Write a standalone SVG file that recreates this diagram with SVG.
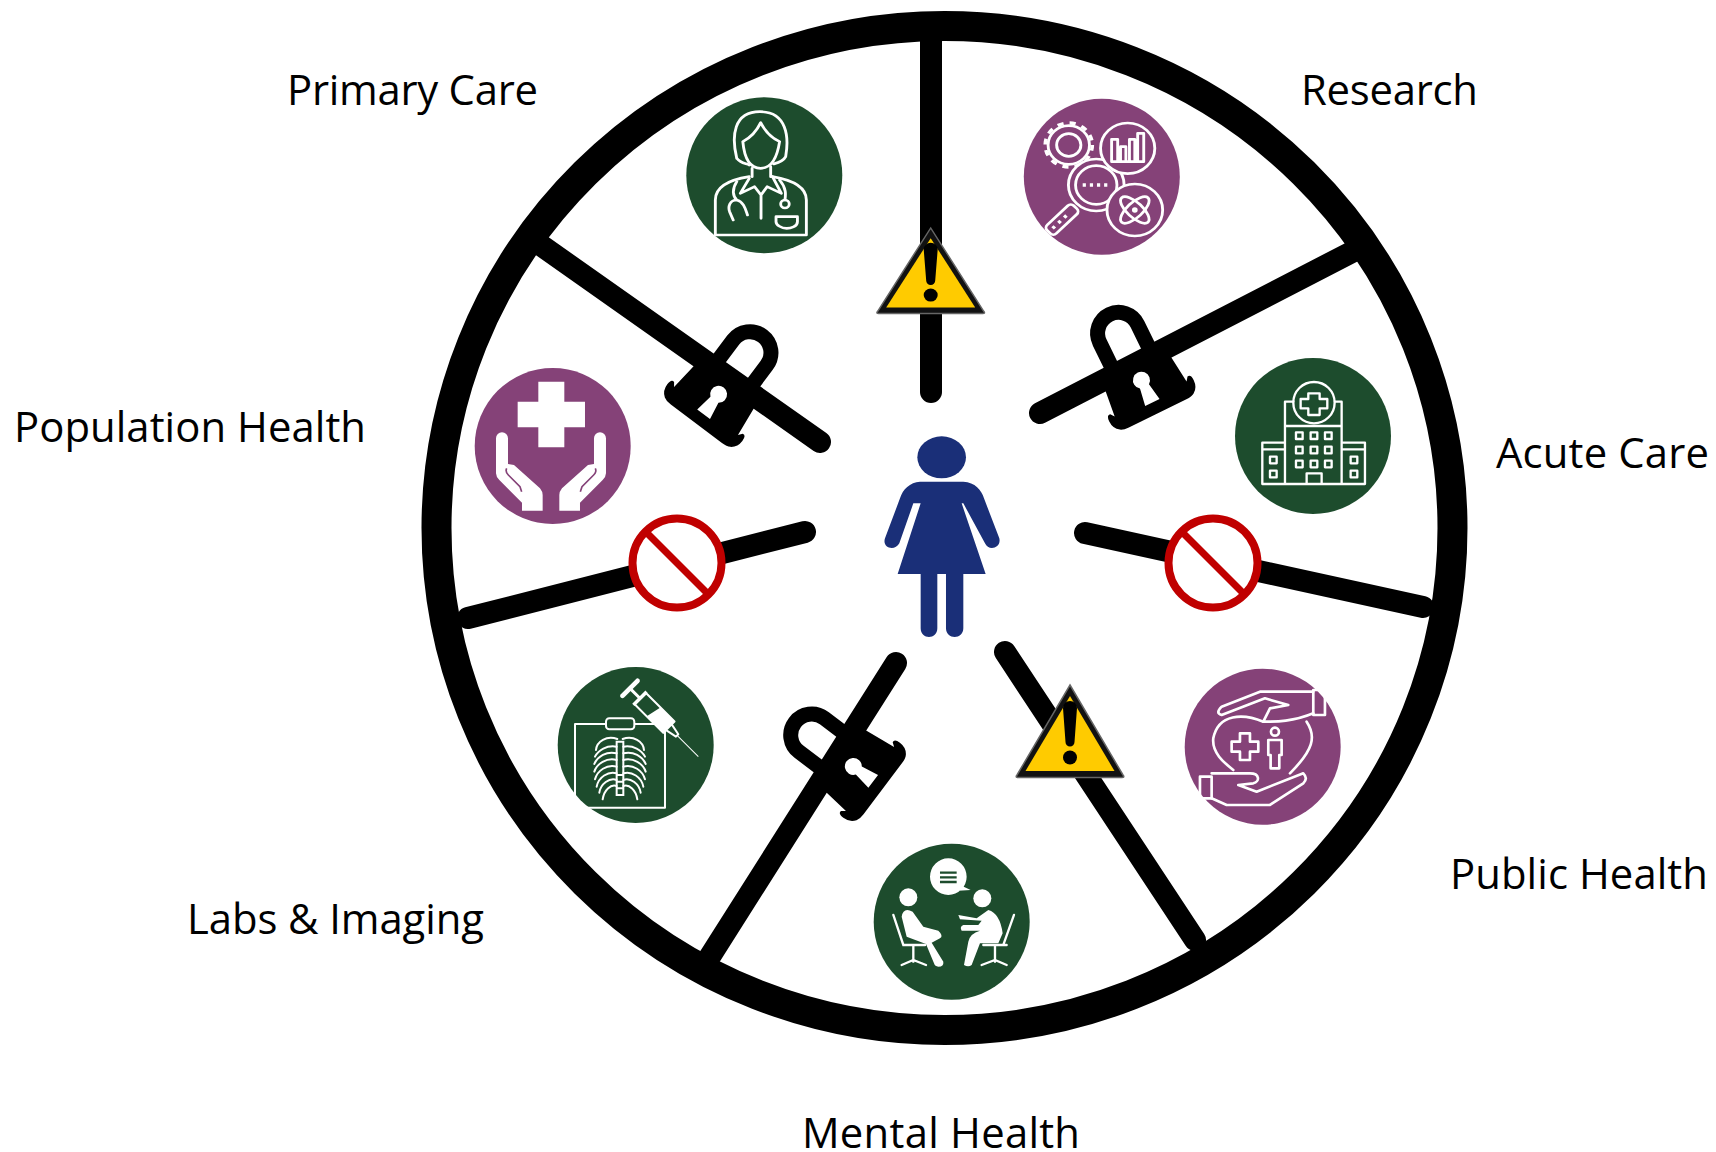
<svg xmlns="http://www.w3.org/2000/svg" xmlns:xlink="http://www.w3.org/1999/xlink" width="1716" height="1152" viewBox="0 0 1716 1152">
<style>
.lbl{font-family:"Open Sans","Noto Sans",sans-serif;font-size:41.800px;fill:#000}
.spoke{stroke:#000;stroke-width:22;stroke-linecap:round;fill:none}
.green{fill:#1d4c2d}
.purple{fill:#854278}
.ic{fill:none;stroke:#fff;stroke-width:8;stroke-linejoin:round;stroke-linecap:round}
.icg{fill:#1d4c2d;stroke:#fff;stroke-width:6;stroke-linejoin:round}
.icp{fill:#854278;stroke:#fff;stroke-width:8;stroke-linejoin:round}
.w{fill:#fff}
</style>
<defs>
<g id="lock">
<path d="M-21,-50V-83A21,21 0 0 1 21,-83V-50" fill="none" stroke="#000" stroke-width="15"/>
<path d="M-35,-55H35L40,-10L43,-14Q47,-15 47,-8Q47,0 41,4Q38,6 32,6H-32Q-38,6 -41,4Q-47,0 -47,-8Q-47,-15 -43,-14L-40,-10Z" fill="#000"/>
<path d="M-5,-24A8.500,8.500 0 1 1 5,-24L8,-6H-8Z" fill="#fff"/>
</g>
<g id="warn">
<path d="M0,0L53,90Q55,92.500 52,92.500H-52Q-55,92.500 -53,90Z" fill="#111" stroke="#666" stroke-width="1.500"/>
<path d="M0,11L44.500,86H-44.500Z" fill="#ffcb00"/>
<path d="M-7,23A7,7 0 0 1 7,23L4.500,57A4.500,4.500 0 0 1 -4.500,57Z" fill="#000"/>
<circle cx="0" cy="72.500" r="7" fill="#000"/>
</g>
<g id="noentry">
<circle r="44.500" fill="#fff" stroke="#c00000" stroke-width="8"/>
<path d="M-30,-30L30,30" stroke="#c00000" stroke-width="7"/>
</g>
<g id="ribs" fill="none" stroke="#fff" stroke-width="6" stroke-linecap="round">
<path d="M232,297C200,285 170,305 168,330"/>
<path d="M230,320C200,315 175,330 165,350"/>
<path d="M230,340C200,332 172,350 163,372"/>
<path d="M230,360C200,352 170,372 163,395"/>
<path d="M230,380C200,372 172,392 165,418"/>
<path d="M230,400C205,392 175,412 170,440"/>
<path d="M230,420C208,412 182,432 178,458"/>
<path d="M230,438C212,432 192,450 188,478"/>
</g>
<g id="careHand">
<path d="M108,385A18,18 0 0 1 144,385V462L162,465L240,535Q248,545 248,555V602H186V578L118,510Q108,500 108,490Z" fill="#fff"/>
<path d="M140,475Q135,485 145,495L180,530L185,545" fill="none" stroke="#854278" stroke-width="5"/>
</g>
</defs>
<rect width="1716" height="1152" fill="#fff"/>
<g id="connectors">
<path class="spoke" d="M931,35V392"/>
<path class="spoke" d="M1352,252L1040,413"/>
<path class="spoke" d="M1423,607L1085,533"/>
<path class="spoke" d="M1195,940L1005,652"/>
<path class="spoke" d="M709,958L896,663"/>
<path class="spoke" d="M468,618L805,532"/>
<path class="spoke" d="M542,246L820,442"/>
</g>
<ellipse id="ring" cx="944.500" cy="528" rx="508" ry="502" fill="none" stroke="#000" stroke-width="30"/>
<g id="barriers">
<use id="barrier-top" xlink:href="#warn" href="#warn" transform="translate(930.700,228) scale(1,.925)"/>
<use id="barrier-lower-right" xlink:href="#warn" href="#warn" x="1070" y="685"/>
<use id="barrier-left" xlink:href="#noentry" href="#noentry" x="677" y="563"/>
<use id="barrier-right" xlink:href="#noentry" href="#noentry" x="1213" y="563"/>
<use id="barrier-upper-right" xlink:href="#lock" href="#lock" transform="translate(1155,408) rotate(-26)"/>
<use id="barrier-upper-left" xlink:href="#lock" href="#lock" transform="translate(700,419) rotate(37)"/>
<use id="barrier-bottom" xlink:href="#lock" href="#lock" transform="translate(878,785) rotate(-53)"/>
</g>
<g id="patient" fill="#1a2f78" transform="translate(860,420) scale(.3333)">
<ellipse cx="245" cy="112" rx="73" ry="63"/>
<path d="M180,185H310C345,187 365,210 372,235L418,355C425,385 385,395 375,370L310,250H305L377,462H310V625C310,660 258,660 258,625V462H232V625C232,660 182,660 182,625V462H113L182,250H160L118,370C105,395 65,385 75,355L120,235C128,208 150,187 180,185Z"/>
</g>
<g id="primary-care">
<circle class="green" cx="764.300" cy="175.300" r="78"/>
<g class="ic" transform="translate(660,80) scale(.357,.3333)">
<path d="M215,235C200,170 205,95 280,95C355,95 362,170 352,230C345,245 325,250 318,252M215,235C225,250 240,250 250,255"/>
<path d="M282,128C270,155 250,175 232,185C235,220 245,265 282,265C318,265 330,220 335,185C315,175 295,155 282,128Z"/>
<path d="M258,265V290M310,260V290"/>
<path d="M155,465V360C155,320 190,300 250,290M315,290C370,300 410,320 410,360V465H155"/>
<path d="M250,295L225,340L265,320L283,345L300,320L340,340L315,290M283,345V415"/>
<path d="M215,305C200,330 205,350 215,360C195,360 190,380 195,395L205,420M215,360C235,365 240,390 245,405M335,300C355,325 352,345 350,360"/>
<circle cx="350" cy="372" r="12"/>
<path d="M325,410H385V425C385,440 365,445 355,445C340,445 325,435 325,425Z"/>
</g>
<text class="lbl" x="287" y="104.500" textLength="251">Primary Care</text>
</g>
<g id="research">
<circle class="purple" cx="1101.800" cy="176.700" r="78"/>
<g transform="translate(660,80) scale(.357,.3333)">
<circle class="ic" cx="1145" cy="195" r="34"/>
<circle class="ic" cx="1145" cy="195" r="58"/>
<circle cx="1145" cy="195" r="66" fill="none" stroke="#fff" stroke-width="10" stroke-dasharray="17.300 17.300"/>
<g transform="translate(1135,410) rotate(-45)"><rect class="ic" x="-65" y="-18" width="105" height="36" rx="12"/><path d="M-50,0H10" stroke="#fff" stroke-width="10" stroke-dasharray="9 14" fill="none"/></g>
<circle class="icp" cx="1222" cy="315" r="78"/>
<circle class="icp" cx="1222" cy="315" r="58"/>
<path d="M1184,315H1262" stroke="#fff" stroke-width="10" stroke-dasharray="9 11" fill="none"/>
<circle class="icp" cx="1310" cy="205" r="76"/>
<path class="ic" d="M1265,245V178H1282V245M1290,245V200H1305V245M1315,245V178H1330V245M1338,245V160H1355V245H1265"/>
<circle class="icp" cx="1330" cy="390" r="78"/>
<g class="ic" transform="translate(1330,390)"><ellipse rx="52" ry="22" transform="rotate(45)"/><ellipse rx="52" ry="22" transform="rotate(-45)"/></g>
<circle cx="1330" cy="390" r="8" fill="#fff"/>
</g>
<text class="lbl" x="1301" y="104.500" textLength="177">Research</text>
</g>
<g id="population-health">
<circle class="purple" cx="552.700" cy="446" r="78"/>
<g transform="translate(460,310) scale(.3333)">
<path class="w" d="M235,215H313V275H375V352H313V412H235V352H173V275H235Z"/>
<use xlink:href="#careHand" href="#careHand"/>
<use xlink:href="#careHand" href="#careHand" transform="translate(546,0) scale(-1,1)"/>
</g>
<text class="lbl" x="14" y="441.500" textLength="352">Population Health</text>
</g>
<g id="acute-care">
<circle class="green" cx="1313" cy="436" r="78"/>
<g class="ic" style="stroke-width:7" transform="translate(1030,300) scale(.3333)">
<path d="M765,552V305H790M935,552V305H915M765,378H935M697,552V428H765M697,448H765M935,428H1005V552H697M935,448H1005M830,552V520H875V552"/>
<circle cx="852" cy="308" r="62"/>
<path d="M835,280H869V297H892V325H869V345H835V325H812V297H835Z"/>
<rect x="798" y="397" width="20" height="20"/><rect x="842" y="397" width="20" height="20"/><rect x="885" y="397" width="20" height="20"/>
<rect x="798" y="440" width="20" height="20"/><rect x="842" y="440" width="20" height="20"/><rect x="885" y="440" width="20" height="20"/>
<rect x="798" y="482" width="20" height="20"/><rect x="842" y="482" width="20" height="20"/><rect x="885" y="482" width="20" height="20"/>
<rect x="720" y="470" width="20" height="20"/><rect x="720" y="512" width="20" height="20"/><rect x="962" y="470" width="20" height="20"/><rect x="962" y="512" width="20" height="20"/>
</g>
<text class="lbl" x="1496" y="467.500" textLength="213">Acute Care</text>
</g>
<g id="labs-imaging">
<circle class="green" cx="635.700" cy="745" r="78"/>
<g transform="translate(540,640) scale(.3333)">
<rect class="ic" style="stroke-width:6" x="105" y="252" width="270" height="251"/>
<rect class="icg" x="198" y="235" width="85" height="33" rx="10"/>
<use xlink:href="#ribs" href="#ribs"/>
<use xlink:href="#ribs" href="#ribs" transform="translate(480,0) scale(-1,1)"/>
<path d="M230,305H250V465H230Z" fill="none" stroke="#fff" stroke-width="6"/>
<path d="M230,405H250M230,425H250M230,445H250" stroke="#fff" stroke-width="6"/>
<g transform="translate(270,145) rotate(45)">
<path d="M0,-32V32" stroke="#fff" stroke-width="14" stroke-linecap="round"/>
<path d="M0,0H42M42,-28V28" stroke="#fff" stroke-width="9" fill="none"/>
<path class="icg" d="M45,-24H165V24H45Z"/>
<path d="M105,-24H165V24H95Z" fill="#fff"/>
<path class="icg" d="M165,-12L200,-5V5L165,12Z"/>
<path d="M200,0H290" stroke="#fff" stroke-width="3"/>
</g>
</g>
<text class="lbl" x="187" y="934" textLength="297">Labs &amp; Imaging</text>
</g>
<g id="mental-health">
<circle class="green" cx="951.700" cy="921.700" r="78"/>
<g transform="translate(860,650) scale(.3333)">
<path class="w" d="M265,625A55,55 0 1 1 265,735A55,55 0 0 1 265,625ZM300,705L332,720L295,722Z"/>
<path d="M240,668H290M240,682H290M240,696H290" stroke="#1d4c2d" stroke-width="7"/>
<circle class="w" cx="145" cy="742" r="27"/>
<circle class="w" cx="367" cy="745" r="27"/>
<path class="w" d="M125,800Q130,770 158,785L190,830L235,842Q252,858 240,865L215,878L250,935Q252,950 235,950Q225,950 222,940L198,882L140,860Z"/>
<path class="w" d="M295,795L350,805L385,780Q420,790 428,850L415,880H360L335,945Q325,952 312,945L325,875Q330,850 360,842H305Q298,830 310,825H355L365,812L300,808Z"/>
<g fill="none" stroke="#fff" stroke-width="7" stroke-linecap="round">
<path d="M100,795L130,885H195M160,885V935M125,945L160,930L198,945M440,885H370M405,885V935M365,945L405,930L440,945M462,795L430,885"/>
</g>
</g>
<text class="lbl" x="802" y="1148" textLength="278">Mental Health</text>
</g>
<g id="public-health">
<circle class="purple" cx="1262.700" cy="746.700" r="78"/>
<g class="ic" style="stroke-width:8" transform="translate(860,650) scale(.3333)">
<path d="M1210,215C1150,190 1075,190 1060,265C1055,310 1095,340 1120,360M1340,215C1370,260 1360,300 1290,370"/>
<path d="M1360,125H1200L1085,170Q1065,190 1085,195L1215,145L1285,165L1230,175L1210,215C1250,215 1300,215 1360,190"/>
<path d="M1360,120H1395V195H1360Z"/>
<path d="M1055,370H1170C1200,370 1200,395 1180,400L1135,405L1190,425L1330,370Q1345,385 1330,400L1230,465H1100L1055,445"/>
<path d="M1020,380H1055V445H1020Z"/>
<path d="M1140,250H1170V275H1195V305H1170V330H1140V305H1115V275H1140Z"/>
<circle cx="1245" cy="245" r="12"/>
<path d="M1225,270H1265V315H1258V355H1232V315H1225Z"/>
</g>
<text class="lbl" x="1450" y="888.500" textLength="258">Public Health</text>
</g>
</svg>
